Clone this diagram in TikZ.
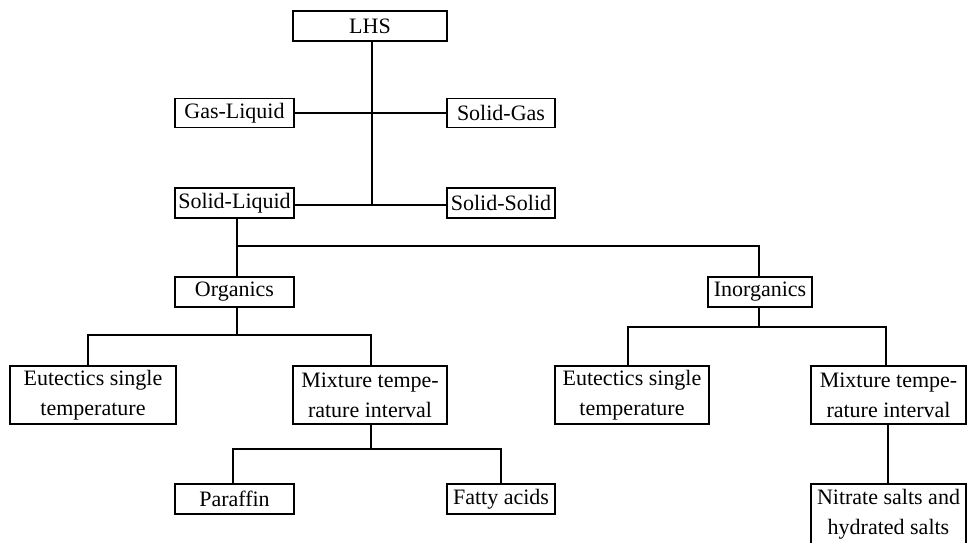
\documentclass[tikz,border=0pt]{standalone}
\usepackage{fontspec}
\setmainfont{Liberation Serif}
\begin{document}
\begin{tikzpicture}[x=1pt,y=-1pt,
  box/.style={draw, line width=1.1pt, inner sep=0pt, align=center,
    font=\fontsize{22}{30}\selectfont},
  link/.style={line width=1.2pt}]
\useasboundingbox (0,0) rectangle (968,542);
\node[box, minimum width=154, minimum height=30] (lhs) at (370,26) {LHS};
\node[box, minimum width=119, minimum height=29] (gl) at (234.5,113) {Gas-Liquid};
\node[box, minimum width=108, minimum height=29] (sg) at (501,113) {Solid-Gas};
\node[box, minimum width=119, minimum height=30] (sl) at (234.5,203) {Solid-Liquid};
\node[box, minimum width=108, minimum height=30] (ss) at (501,203) {Solid-Solid};
\node[box, minimum width=119, minimum height=30] (org) at (234.5,292) {Organics};
\node[box, minimum width=104, minimum height=30] (inorg) at (760,292) {Inorganics};
\node[box, minimum width=166, minimum height=58] (eutl) at (93,395) {Eutectics single\\temperature};
\node[box, minimum width=154, minimum height=58] (mixl) at (370,395) {Mixture tempe-\\rature interval};
\node[box, minimum width=154, minimum height=58] (eutr) at (632,395) {Eutectics single\\temperature};
\node[box, minimum width=155, minimum height=58] (mixr) at (888.5,395) {Mixture tempe-\\rature interval};
\node[box, minimum width=119, minimum height=30] (par) at (234.5,499) {Paraffin};
\node[box, minimum width=108, minimum height=30] (fat) at (501,499) {Fatty acids};
\node[box, minimum width=155, minimum height=60] (nit) at (888.5,514) {Nitrate salts and\\hydrated salts};
% junctions
\coordinate (j1) at (372,205);
\coordinate (j2) at (237,246);
\coordinate (j3) at (237,335);
\coordinate (j4) at (759,327);
\coordinate (j5) at (371,449);
% connectors
\draw[link] (lhs.south -| j1) -- (j1);
\draw[link] (gl.east) -- (sg.west);
\draw[link] (sl.east |- j1) -- (ss.west |- j1);
\draw[link] (sl.south -| j2) -- (j2) -| (inorg.north -| j4);
\draw[link] (j2) -- (org.north -| j2);
\draw[link] (org.south -| j3) -- (j3);
\draw[link] (88,335 |- eutl.north) -- (88,335) -- (371,335) -- (371,335 |- mixl.north);
\draw[link] (inorg.south -| j4) -- (j4);
\draw[link] (628,327 |- eutr.north) -- (628,327) -- (886,327) -- (886,327 |- mixr.north);
\draw[link] (mixl.south -| j5) -- (j5);
\draw[link] (233,449 |- par.north) -- (233,449) -- (501,449) -- (501,449 |- fat.north);
\draw[link] (mixr.south -| 888,0) -- (nit.north -| 888,0);
\end{tikzpicture}
\end{document}
